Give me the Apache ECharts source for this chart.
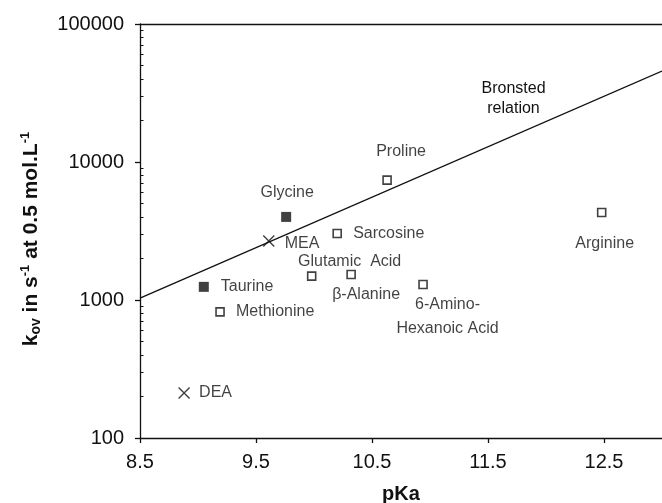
<!DOCTYPE html>
<html>
<head>
<meta charset="utf-8">
<script src="https://cdn.jsdelivr.net/npm/echarts@6/dist/echarts.min.js"></script>
<style>html,body{margin:0;padding:0;background:#fff;}#c{width:662px;height:503px;}</style>
</head>
<body>
<div id="c"></div>
<script>
// ---- data ----
const openNames = ['Proline', 'Sarcosine', 'Glutamic  Acid', 'β-Alanine', '6-Amino-\nHexanoic Acid', 'Methionine', 'Arginine'];
const openPKa   = [10.63, 10.20, 9.98, 10.32, 10.94, 9.19, 12.48];
const openKov   = [7390, 3030, 1490, 1530, 1295, 820, 4310];

const filledNames = ['Glycine', 'Taurine'];
const filledPKa   = [9.76, 9.05];
const filledKov   = [4000, 1245];

const crossNames = ['MEA', 'DEA'];
const crossPKa   = [9.61, 8.88];
const crossKov   = [2680, 212];

const bronstedPKa = [8.5, 13];
const bronstedKov = [1030, 45600];
const bronstedLabelAt = [11.72, 28900];

const xTickLabels = [8.5, 9.5, 10.5, 11.5, 12.5];
const yMinorTicks = [200,300,400,500,600,700,800,900,2000,3000,4000,5000,6000,7000,8000,9000,
                     20000,30000,40000,50000,60000,70000,80000,90000];

// ---- label placement (style, not data) ----
const place = {
  'Glycine': ['center', 1, -24],
  'MEA': ['left', 16, 3],
  'Glutamic  Acid': ['center', 38, -15],
  'β-Alanine': ['center', 15, 20],
  '6-Amino-\nHexanoic Acid': ['center', 24.5, 32],
  'Sarcosine': ['left', 16, 0],
  'Proline': ['center', 14, -29],
  'Arginine': ['center', 3, 31],
  'Taurine': ['left', 17, 0],
  'Methionine': ['left', 16, 0],
  'DEA': ['left', 15, 0]
};

const INK = '#111';
const FONT = "'Liberation Sans', Arial, Helvetica, sans-serif";

function pts(names, xs, ys) {
  return names.map((n, i) => {
    const p = place[n];
    return {
      name: n,
      value: [xs[i], ys[i]],
      label: {
        show: true, formatter: n, position: 'inside',
        align: p[0], verticalAlign: 'middle', offset: [p[1], p[2]],
        color: INK, fontSize: 16, fontFamily: FONT, lineHeight: 24
      }
    };
  });
}

const chart = echarts.init(document.getElementById('c'), null, {renderer: 'canvas'});
chart.setOption({
  animation: false,
  backgroundColor: '#fff',
  grid: {left: 140, right: 0, top: 24, bottom: 65, containLabel: false, outerBoundsMode: 'none'},
  xAxis: [{
    type: 'value', min: 8.5, max: 13, interval: 0.5,
    name: 'pKa', nameLocation: 'middle', nameGap: 46,
    nameTextStyle: {fontSize: 20, fontWeight: 'bold', color: INK, fontFamily: FONT},
    axisLine: {show: true, onZero: false, lineStyle: {color: INK, width: 1.3}},
    axisTick: {show: true, length: 5, lineStyle: {color: INK, width: 1.3}, customValues: xTickLabels},
    axisLabel: {fontSize: 20, color: INK, fontFamily: FONT, margin: 14, customValues: xTickLabels,
      formatter: v => String(v)},
    splitLine: {show: false}
  }, {
    type: 'value', min: 8.5, max: 13, position: 'top',
    axisLine: {show: true, onZero: false, lineStyle: {color: INK, width: 1.3}},
    axisTick: {show: false}, axisLabel: {show: false}, splitLine: {show: false}
  }],
  yAxis: [{
    type: 'log', logBase: 10, min: 100, max: 100000,
    name: '{b|k}{sub|ov}{b| in s}{sup|-1}{b| at 0.5 mol.L}{sup|-1}',
    nameLocation: 'middle', nameGap: 97,
    nameTextStyle: {
      color: INK, fontFamily: FONT, fontSize: 21, fontWeight: 'bold', padding: [0, 16, 0, 0],
      rich: {
        b: {fontSize: 21, fontWeight: 'bold', color: INK, fontFamily: FONT, lineHeight: 24},
        sub: {fontSize: 14, fontWeight: 'bold', color: INK, fontFamily: FONT, lineHeight: 12, verticalAlign: 'bottom'},
        sup: {fontSize: 13, fontWeight: 'bold', color: INK, fontFamily: FONT, lineHeight: 12, verticalAlign: 'top'}
      }
    },
    axisLine: {show: true, lineStyle: {color: INK, width: 1.3}},
    axisTick: {show: true, length: 5, lineStyle: {color: INK, width: 1.3}},
    axisLabel: {fontSize: 20, color: INK, fontFamily: FONT, margin: 16, formatter: v => String(v)},
    splitLine: {show: false}
  }, {
    type: 'log', logBase: 10, min: 100, max: 100000, position: 'left',
    axisLine: {show: false},
    axisTick: {show: true, inside: true, length: 3.5, lineStyle: {color: INK, width: 1}, customValues: yMinorTicks},
    axisLabel: {show: false}, splitLine: {show: false}
  }],
  series: [{
    type: 'line', name: 'Bronsted relation',
    data: bronstedPKa.map((x, i) => [x, bronstedKov[i]]),
    symbol: 'none', lineStyle: {color: INK, width: 1.4}, z: 1,
    markPoint: {
      symbol: 'circle', symbolSize: 0,
      data: [{coord: bronstedLabelAt}],
      label: {show: true, position: 'inside', formatter: 'Bronsted\nrelation', color: INK,
        fontSize: 16, fontFamily: FONT, lineHeight: 20, align: 'center'}
    }
  }, {
    type: 'scatter', name: 'open',
    data: pts(openNames, openPKa, openKov),
    symbol: 'rect', symbolSize: 8,
    itemStyle: {color: '#fff', borderColor: INK, borderWidth: 1.6}, z: 3
  }, {
    type: 'scatter', name: 'filled',
    data: pts(filledNames, filledPKa, filledKov),
    symbol: 'rect', symbolSize: 10,
    itemStyle: {color: INK}, z: 3
  }, {
    type: 'scatter', name: 'cross',
    data: pts(crossNames, crossPKa, crossKov),
    symbol: 'path://M0,0L10,10M10,0L0,10', symbolSize: 11,
    itemStyle: {color: 'transparent', borderColor: INK, borderWidth: 1.4}, z: 3
  }]
});
</script>
</body>
</html>
